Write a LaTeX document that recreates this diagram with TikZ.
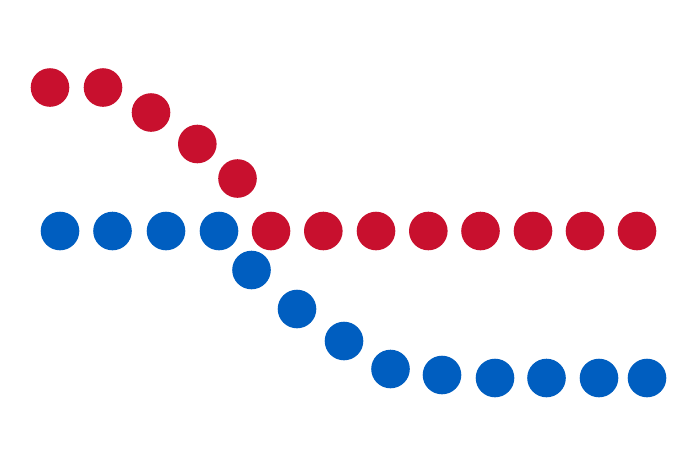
\documentclass[tikz,border=0pt]{standalone}
\definecolor{dotred}{HTML}{C8102E}
\definecolor{dotblue}{HTML}{005EC0}
\begin{document}
\begin{tikzpicture}[x=1pt,y=-1pt,
  dotbase/.style={circle,inner sep=0pt,minimum size=38.6pt,draw=none},
  reddot/.style={dotbase,fill=dotred},
  bluedot/.style={dotbase,fill=dotblue}]
\useasboundingbox[fill=white] (0,0) rectangle (700,466);
% red
\node[reddot] (r1) at (50,87.5) {};
\node[reddot] (r2) at (103,87.5) {};
\node[reddot] (r3) at (151,112.5) {};
\node[reddot] (r4) at (197.3,144) {};
\node[reddot] (r5) at (237.5,178.5) {};
\node[reddot] (r6) at (271,231) {};
\node[reddot] (r7) at (323.3,231) {};
\node[reddot] (r8) at (376,231) {};
\node[reddot] (r9) at (428.3,231) {};
\node[reddot] (r10) at (480.5,231) {};
\node[reddot] (r11) at (533,231) {};
\node[reddot] (r12) at (585,231) {};
\node[reddot] (r13) at (637,231) {};
% blue
\node[bluedot] (b1) at (60,231) {};
\node[bluedot] (b2) at (112.5,231) {};
\node[bluedot] (b3) at (166,231) {};
\node[bluedot] (b4) at (219,231) {};
\node[bluedot] (b5) at (251.5,270) {};
\node[bluedot] (b6) at (297,309) {};
\node[bluedot] (b7) at (344,341) {};
\node[bluedot] (b8) at (390.5,369) {};
\node[bluedot] (b9) at (442,375) {};
\node[bluedot] (b10) at (495,378) {};
\node[bluedot] (b11) at (546.5,378) {};
\node[bluedot] (b12) at (599,378) {};
\node[bluedot] (b13) at (647,378) {};
\end{tikzpicture}
\end{document}
